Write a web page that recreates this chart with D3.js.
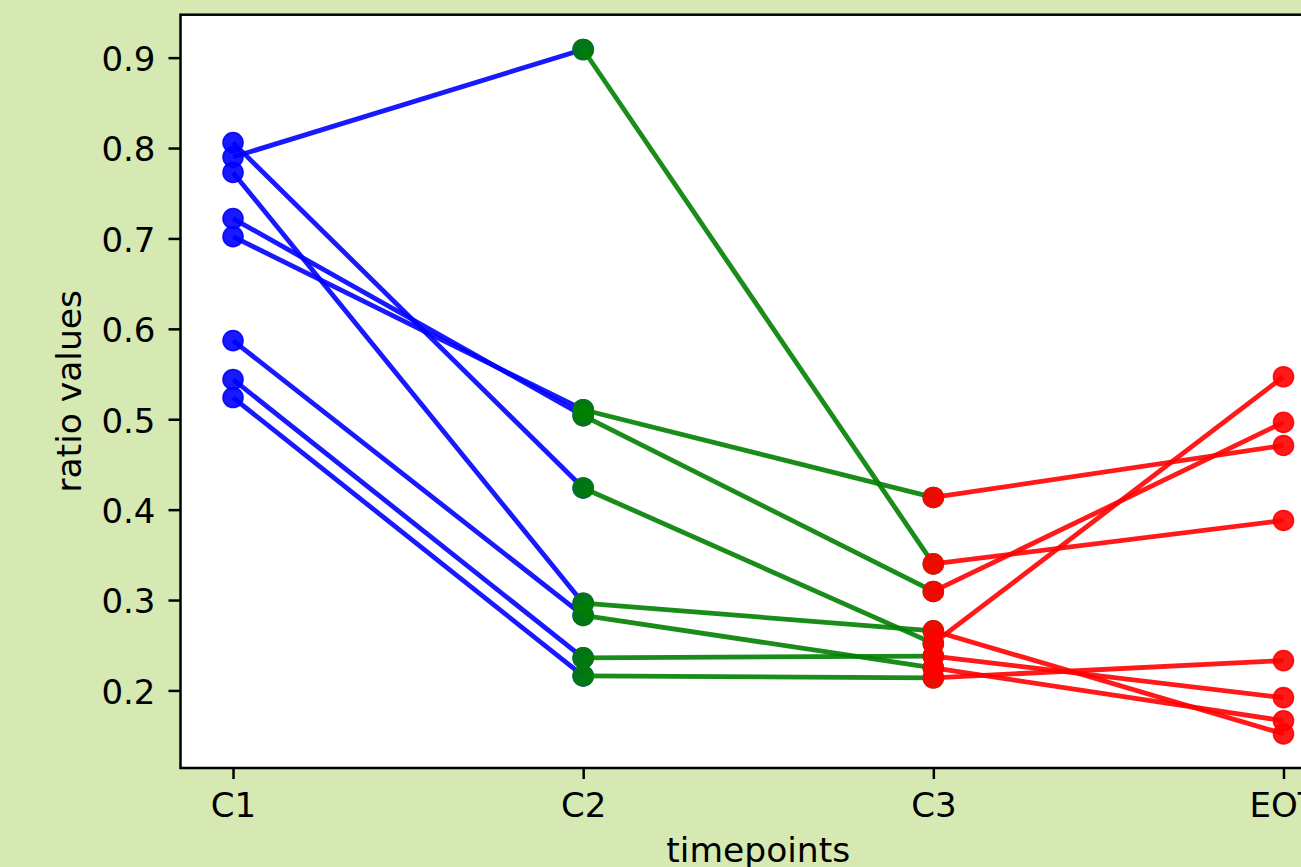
<!DOCTYPE html>
<html>
<head>
<meta charset="utf-8">
<script src="https://cdn.jsdelivr.net/npm/d3@7"></script>
<style>
  html, body { margin: 0; padding: 0; background: #d6e9b3; overflow: hidden; }
  svg { display: block; font-family: "DejaVu Sans", sans-serif; }
</style>
</head>
<body>
<div id="chart"></div>
<script>
// timepoints on the x axis
var timepoints = ["C1", "C2", "C3", "EOT"];

// ratio values per timepoint, same index = same subject
var c1Values  = [0.806, 0.790, 0.773, 0.722, 0.702, 0.587, 0.544, 0.524];
var c2Values  = [0.424, 0.909, 0.2965, 0.504, 0.5105, 0.283, 0.236, 0.216];
var c3Values  = [0.252, 0.340, 0.266, 0.3095, 0.4135, 0.225, 0.238, 0.214];
var eotValues = [0.547, 0.388, 0.152, 0.4965, 0.471, 0.1665, 0.192, 0.233];

var yTicks = [0.2, 0.3, 0.4, 0.5, 0.6, 0.7, 0.8, 0.9];

// one colour per segment between two timepoints
var segmentColors = ["#0000ff", "#008000", "#ff0000"];

var W = 1301, H = 867;
// axes box (right edge runs past the picture, as in the original)
var axLeft = 180.5, axTop = 14.7, axBottom = 768, axRight = 1336;

var x = d3.scaleLinear().domain([-0.15, 3.15]).range([axLeft, axRight]);
var y = d3.scaleLinear().domain([0.1142, 0.9475]).range([axBottom, axTop]);

var svg = d3.select("#chart").append("svg")
  .attr("width", W)
  .attr("height", H);

svg.append("rect")
  .attr("width", W).attr("height", H)
  .attr("fill", "#d6e9b3");

svg.append("rect")
  .attr("x", axLeft).attr("y", axTop)
  .attr("width", axRight - axLeft).attr("height", axBottom - axTop)
  .attr("fill", "#ffffff");

var series = [c1Values, c2Values, c3Values, eotValues];

// segments: blue first, then green, then red (markers on top of earlier lines)
for (var s = 0; s < 3; s++) {
  var from = series[s], to = series[s + 1];
  var color = segmentColors[s];
  var g = svg.append("g").attr("class", "seg" + s);

  from.forEach(function(v, i) {
    var pair = [[s, v], [s + 1, to[i]]];

    g.append("path")
      .datum(pair)
      .attr("fill", "none")
      .attr("stroke", color)
      .attr("stroke-opacity", 0.9)
      .attr("stroke-width", 4.8)
      .attr("d", d3.line()
        .x(function(d) { return x(d[0]); })
        .y(function(d) { return y(d[1]); }));

    g.selectAll(null)
      .data(pair)
      .enter().append("circle")
      .attr("cx", function(d) { return x(d[0]); })
      .attr("cy", function(d) { return y(d[1]); })
      .attr("r", 10)
      .attr("fill", color)
      .attr("fill-opacity", 0.9)
      .attr("stroke", color)
      .attr("stroke-opacity", 0.9)
      .attr("stroke-width", 1.6);
  });
}

// spines
svg.append("rect")
  .attr("x", axLeft).attr("y", axTop)
  .attr("width", axRight - axLeft).attr("height", axBottom - axTop)
  .attr("fill", "none")
  .attr("stroke", "#000")
  .attr("stroke-width", 2.5);

// Y axis
var yAxis = svg.append("g")
  .attr("transform", "translate(" + axLeft + ",0)")
  .call(d3.axisLeft(y).tickValues(yTicks).tickSize(12).tickPadding(13)
    .tickFormat(d3.format(".1f")));

// X axis
var xAxis = svg.append("g")
  .attr("transform", "translate(0," + axBottom + ")")
  .call(d3.axisBottom(x).tickValues([0, 1, 2, 3]).tickSize(11).tickPadding(14)
    .tickFormat(function(i) { return timepoints[i]; }));

[yAxis, xAxis].forEach(function(a) {
  a.select(".domain").remove();
  a.selectAll(".tick line").attr("stroke", "#000").attr("stroke-width", 2.5);
  a.selectAll(".tick text")
    .attr("fill", "#000")
    .style("font-family", "'DejaVu Sans', sans-serif")
    .style("font-size", "34px");
});
yAxis.selectAll(".tick text").attr("dy", "0.38em");

// axis labels
svg.append("text")
  .attr("x", (axLeft + axRight) / 2)
  .attr("y", 862)
  .attr("text-anchor", "middle")
  .style("font-size", "34.5px")
  .text("timepoints");

svg.append("text")
  .attr("transform", "translate(80.5," + ((axTop + axBottom) / 2) + ") rotate(-90)")
  .attr("text-anchor", "middle")
  .style("font-size", "34.5px")
  .text("ratio values");
</script>
</body>
</html>
